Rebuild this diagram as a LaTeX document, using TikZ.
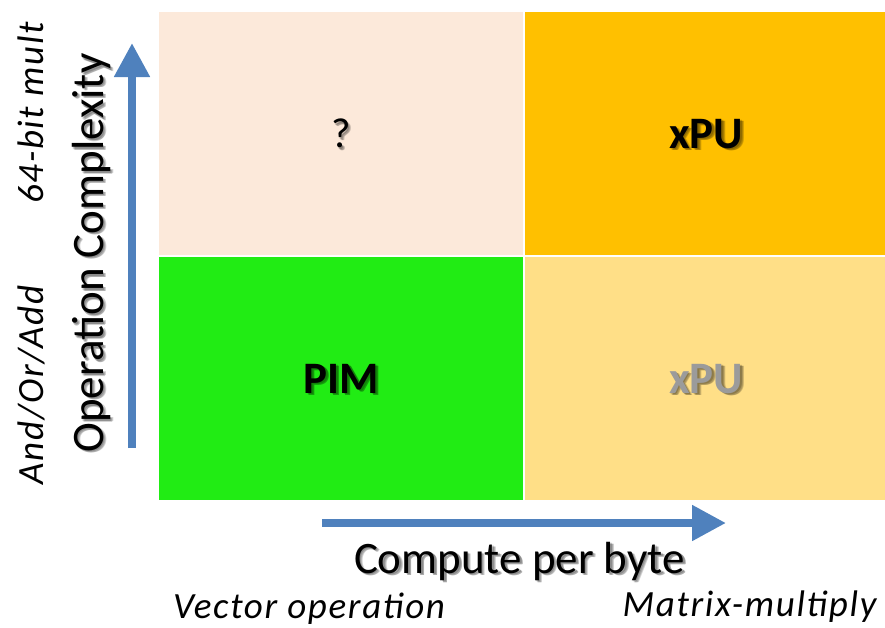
\documentclass[tikz,border=0pt]{standalone}
\usepackage{fontspec}
\setmainfont{Carlito}
\usetikzlibrary{arrows.meta}

\definecolor{peach}{HTML}{FCE9DA}
\definecolor{amber}{HTML}{FFC000}
\definecolor{limegreen}{HTML}{21EC14}
\definecolor{paleamber}{HTML}{FFDF87}
\definecolor{fadedgray}{HTML}{9B9B9B}
\definecolor{axisblue}{HTML}{4F81BD}

% text with a soft drop shadow: #1 name, #2 style, #3 position, #4 text
\newcommand\shadowed[4]{%
  \foreach \dx/\dy [count=\k] in {1.5/1.5,2.5/2.5,3.2/2.2}{%
    \node[#2, text=black, opacity=0.18] (#1-s\k) at ([shift={(\dx,\dy)}]#3) {#4};
  }%
  \node[#2] (#1) at (#3) {#4};%
}

\begin{document}
\begin{tikzpicture}[x=1pt,y=-1pt,
  cell/.style={draw=none, inner sep=0pt, anchor=north west,
               minimum height=243pt},
  axis/.style={draw=axisblue, line width=8pt,
               -{Triangle[width=34pt,length=34pt]}},
  big/.style={font=\fontsize{45}{50}\selectfont, inner sep=0pt, anchor=base},
  tag/.style={font=\fontsize{45}{50}\selectfont\bfseries, inner sep=0pt},
  qmark/.style={font=\fontsize{42}{48}\selectfont, inner sep=0pt},
  side/.style={font=\fontsize{37}{42}\selectfont\itshape\addfontfeature{LetterSpace=4.5},
               inner sep=0pt, anchor=base},
]
\useasboundingbox (0,0) rectangle (885,627);

% quadrants
\node[cell, fill=peach,     minimum width=364pt] (tl) at (159,12)  {};
\node[cell, fill=amber,     minimum width=362pt] (tr) at (525,12)  {};
\node[cell, fill=limegreen, minimum width=364pt] (bl) at (159,257) {};
\node[cell, fill=paleamber, minimum width=362pt] (br) at (525,257) {};

% quadrant labels
\shadowed{q}{qmark}{tl.center}{?}
\shadowed{xpuhi}{tag}{tr.center}{xPU}
\shadowed{pim}{tag}{bl.center}{PIM}
\shadowed{xpulo}{tag, text=fadedgray}{br.center}{xPU}

% axes
\coordinate (ytail) at (132,448);
\coordinate (yhead) at (132,43);
\draw[axis] (ytail) -- (yhead);
\coordinate (xtail) at (322,523);
\coordinate (xhead) at (726,523);
\draw[axis] (xtail) -- (xhead);

% axis titles
\coordinate (ytitle) at (103,253);
\coordinate (xtitle) at (519.5,573);
\shadowed{ylab}{big, rotate=90}{ytitle}{Operation Complexity}
\shadowed{xlab}{big}{xtitle}{Compute per byte}

% axis end labels
\node[side, rotate=90] (ylo) at (43,385) {And/Or/Add};
\node[side, rotate=90] (yhi) at (43,113) {64-bit mult};
\node[side] (xlo) at (309,618) {Vector operation};
\node[side] (xhi) at (749.5,616) {Matrix-multiply};
\end{tikzpicture}
\end{document}
